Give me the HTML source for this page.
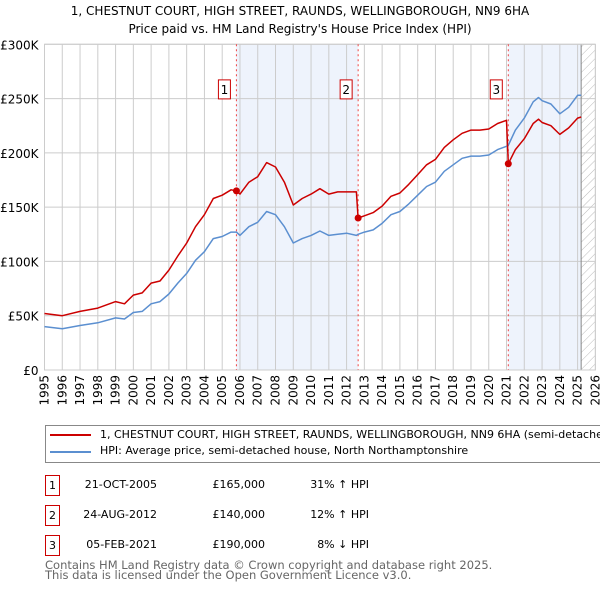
<!DOCTYPE html>
<html><head><meta charset="utf-8"><style>
body{margin:0;background:#fff;font-family:"DejaVu Sans","Liberation Sans",sans-serif;}
#wrap{position:relative;width:600px;height:590px;overflow:hidden;}
.t{position:absolute;white-space:nowrap;color:#000;}
</style></head><body>
<div id="wrap">
<div class="t" style="left:0;width:600px;text-align:center;top:2px;font-size:12px;line-height:18px;">1, CHESTNUT COURT, HIGH STREET, RAUNDS, WELLINGBOROUGH, NN9 6HA<br>Price paid vs. HM Land Registry's House Price Index (HPI)</div>
<svg id="chart" width="600" height="420" style="position:absolute;left:0;top:0" font-family="DejaVu Sans, Liberation Sans, sans-serif"></svg>
<div style="position:absolute;left:45px;top:425px;width:600px;height:36px;border:1px solid #888;"></div>
<div style="position:absolute;left:50px;top:434px;width:41px;height:2px;background:#cc0000"></div>
<div class="t" style="left:100px;top:428px;font-size:11px;">1, CHESTNUT COURT, HIGH STREET, RAUNDS, WELLINGBOROUGH, NN9 6HA (semi-detached house)</div>
<div style="position:absolute;left:50px;top:451px;width:41px;height:2px;background:#5b8fd0"></div>
<div class="t" style="left:100px;top:444px;font-size:11px;">HPI: Average price, semi-detached house, North Northamptonshire</div>
<div id="rows"></div>
<div class="t" style="left:45px;top:560px;font-size:11.5px;line-height:10px;color:#666;">Contains HM Land Registry data © Crown copyright and database right 2025.<br>This data is licensed under the Open Government Licence v3.0.</div>
</div>
<script>
const dates=[1995,1996,1997,1998,1999,1999.5,2000,2000.5,2001,2001.5,2002,2002.5,2003,2003.5,2004,2004.5,2005,2005.5,2005.8,2006,2006.5,2007,2007.5,2008,2008.5,2009,2009.5,2010,2010.5,2011,2011.5,2012,2012.55,2012.65,2013,2013.5,2014,2014.5,2015,2015.5,2016,2016.5,2017,2017.5,2018,2018.5,2019,2019.5,2020,2020.5,2021.0,2021.1,2021.5,2022,2022.5,2022.8,2023,2023.5,2024,2024.5,2025,2025.2];
const hpiValues=[40,38,41,43.5,48,47,53,54,61,63,70,80,89,101,109,121,123,127,127,124,132,136,146,143,132,117,121,124,128,124,125,126,124,125,127,129,135,143,146,153,161,169,173,183,189,195,197,197,198,203,206,207,221,232,247,251,248,245,236,242,253,253];
const propValues=[52,50,54,57,63,61,69,71,80,82,92,105,117,132,143,158,161,166,165,162,173,178,191,187,173,152,158,162,167,162,164,164,164,140,142,145,151,160,163,171,180,189,194,205,212,218,221,221,222,227,230,190,203,213,227,231,228,225,217,223,232,233];
const saleDates=[2005.8,2012.65,2021.1];
const salePrices=[165,140,190];
const saleLabels=["1","2","3"];
const saleDateText=["21-OCT-2005","24-AUG-2012","05-FEB-2021"];
const salePriceText=["£165,000","£140,000","£190,000"];
const saleHpiText=["31% ↑ HPI","12% ↑ HPI","8% ↓ HPI"];
const yTicks=[0,50,100,150,200,250,300];
const yTickLabels=["£0","£50K","£100K","£150K","£200K","£250K","£300K"];
const xTicks=[1995,1996,1997,1998,1999,2000,2001,2002,2003,2004,2005,2006,2007,2008,2009,2010,2011,2012,2013,2014,2015,2016,2017,2018,2019,2020,2021,2022,2023,2024,2025,2026];
const dataEnd=2025.2;

const X=y=>44.5+(y-1995)*17.77;
const Y=v=>370-v*1.0857;
const svg=document.getElementById('chart');
const NS='http://www.w3.org/2000/svg';
function mk(tag,attrs){const e=document.createElementNS(NS,tag);for(const k in attrs)e.setAttribute(k,attrs[k]);svg.appendChild(e);return e;}
const L=X(1995),R=X(2026),T=Y(300),B=Y(0);
let e;
e=mk('defs',{});e.innerHTML='<pattern id="hatch" width="6" height="6" patternUnits="userSpaceOnUse" patternTransform="rotate(45)"><line x1="0" y1="0" x2="0" y2="6" stroke="#bbb" stroke-width="1"/></pattern>';
e=mk('rect',{x:X(saleDates[0]),y:T,width:X(saleDates[1])-X(saleDates[0]),height:B-T,fill:'#eef3fc'});


e=mk('rect',{x:X(saleDates[2]),y:T,width:X(dataEnd)-X(saleDates[2]),height:B-T,fill:'#eef3fc'});


e=mk('rect',{x:X(dataEnd),y:T,width:R-X(dataEnd),height:B-T,fill:'url(#hatch)'});


xTicks.forEach(t=>{e=mk('line',{x1:X(t),x2:X(t),y1:T,y2:B,stroke:'#cccccc','stroke-width':1});


e=mk('text',{x:0,y:0,'font-size':12,'text-anchor':'end',transform:`translate(${X(t)+4},${B+5}) rotate(-90)`});e.textContent=t;

});
yTicks.forEach((t,i)=>{e=mk('line',{x1:L,x2:R,y1:Y(t),y2:Y(t),stroke:'#cccccc','stroke-width':1});


e=mk('text',{x:L-6,y:Y(t)+5,'font-size':12,'text-anchor':'end'});e.textContent=yTickLabels[i];

});
e=mk('line',{x1:X(dataEnd),x2:X(dataEnd),y1:T,y2:B,stroke:'#888','stroke-width':1});


e=mk('rect',{x:L,y:T,width:R-L,height:B-T,fill:'none',stroke:'#ccc'});


saleDates.forEach((d,i)=>{e=mk('line',{x1:X(d),x2:X(d),y1:T,y2:B,stroke:'#ee4444','stroke-width':1,'stroke-dasharray':'2,3'});

});
function path(vals,col,name){let d='';dates.forEach((t,i)=>{d+=(i?'L':'M')+X(t).toFixed(1)+','+Y(vals[i]).toFixed(1);});
e=mk('path',{d:d,fill:'none',stroke:col,'stroke-width':1.5,'stroke-linejoin':'round'});

}
path(hpiValues,'#5b8fd0','hpi-line');
path(propValues,'#cc0000','property-line');
saleDates.forEach((d,i)=>{e=mk('circle',{cx:X(d),cy:Y(salePrices[i]),r:3.5,fill:'#cc0000'});


e=mk('rect',{x:X(d)-18,y:Y(258)-10,width:12,height:19,fill:'#fff',stroke:'#cc0000'});


e=mk('text',{x:X(d)-12,y:Y(258)+4,'font-size':12,'text-anchor':'middle'});e.textContent=saleLabels[i];

});
const rows=document.getElementById('rows');
saleLabels.forEach((s,i)=>{const top=475+i*30;
let h=`<div class="t" style="left:45px;top:${top}px;width:13px;height:19px;border:1px solid #cc0000;font-size:11px;text-align:center;line-height:19px">${s}</div>`;
h+=`<div class="t" style="left:60px;width:97px;text-align:right;top:${top+3}px;font-size:11px">${saleDateText[i]}</div>`;
h+=`<div class="t" style="left:175px;width:90px;text-align:right;top:${top+3}px;font-size:11px">${salePriceText[i]}</div>`;
h+=`<div class="t" style="left:280px;width:89px;text-align:right;top:${top+3}px;font-size:11px">${saleHpiText[i]}</div>`;
const d=document.createElement('div');d.innerHTML=h;


rows.appendChild(d);});
</script>
</body></html>
